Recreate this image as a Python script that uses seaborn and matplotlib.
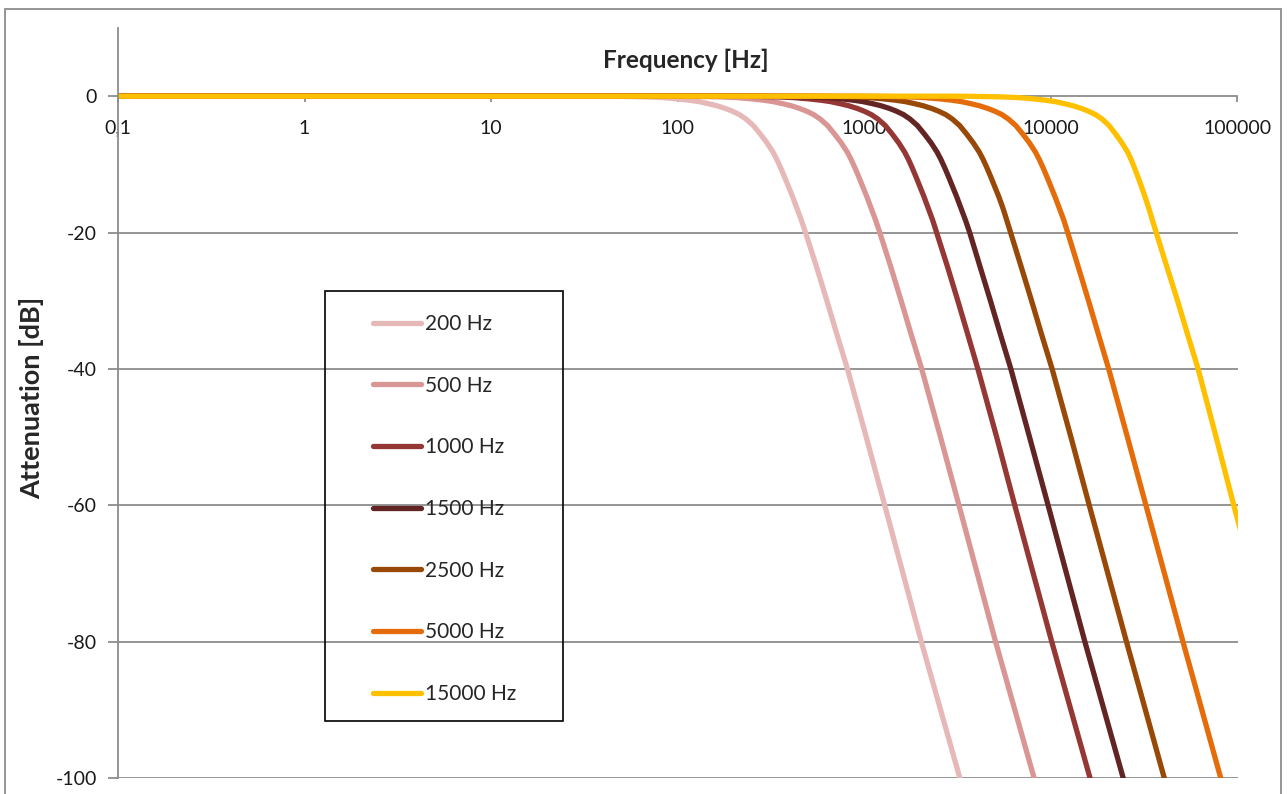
import pandas as pd
import matplotlib
matplotlib.use('Agg')
import matplotlib.pyplot as plt
from matplotlib.patches import Rectangle
from matplotlib.ticker import NullLocator
import seaborn as sns

attenuation_db = [0, 0, -0.05, -0.1, -0.2, -0.4, -0.6, -0.8, -1.1, -1.4, -1.8, -2.2, -2.7,
                  -3.35, -4.3, -5.5, -6.8, -8.2, -9.3, -10.5, -11.8, -13.1, -14.7, -16.5,
                  -18.2, -20, -25, -30, -35, -40, -50, -60, -80, -100, -110]

# frequency (Hz) where each curve reaches the level above
freq_200 = [0.1, 40, 54, 66, 82, 100, 116, 130, 146, 162, 180, 196, 214,
            232, 254, 276, 300, 324, 340, 356, 373, 390, 412, 436,
            460, 484, 554, 630, 714, 812, 1024, 1286, 2020, 3250, 4100]
freq_500 = [0.1, 100, 135, 165, 205, 250, 290, 325, 365, 405, 450, 490, 535,
            580, 635, 690, 750, 810, 850, 890, 933, 975, 1030, 1090,
            1150, 1210, 1385, 1575, 1785, 2030, 2560, 3215, 5050, 8125, 10250]
freq_1000 = [0.1, 200, 270, 332, 414, 506, 588, 660, 742, 824, 916, 998, 1090,
             1182, 1294, 1405, 1525, 1645, 1725, 1805, 1890, 1975, 2085, 2205,
             2325, 2440, 2790, 3170, 3590, 4060, 5120, 6400, 10100, 16200, 20500]
freq_1500 = [0.1, 300, 405, 500, 621, 758, 879, 985, 1106, 1227, 1364, 1485, 1621,
             1757, 1924, 2091, 2273, 2454, 2575, 2697, 2826, 2954, 3121, 3303,
             3485, 3670, 4170, 4740, 5370, 6100, 7680, 9660, 15200, 24400, 30800]
freq_2500 = [0.1, 500, 675, 840, 1045, 1275, 1480, 1660, 1860, 2065, 2295, 2500, 2730,
             2960, 3240, 3520, 3825, 4130, 4335, 4540, 4755, 4970, 5250, 5545,
             5800, 6080, 6925, 7875, 8925, 10150, 12800, 16050, 25400, 40500, 51200]
freq_5000 = [0.1, 1000, 1350, 1680, 2090, 2550, 2960, 3315, 3725, 4130, 4590, 5000, 5460,
             5915, 6480, 7040, 7650, 8260, 8670, 9080, 9510, 9945, 10500, 11120,
             11730, 12300, 14000, 15900, 18000, 20400, 25700, 32300, 51000, 81300, 102500]
freq_15000 = [0.1, 3240, 4370, 5350, 6640, 8100, 9400, 10530, 11830, 13120, 14580, 15880, 17330,
              18790, 20480, 22150, 23960, 25760, 26900, 28040, 29230, 30420, 31890, 33520,
              35000, 36660, 41800, 47720, 54090, 61510, 76800, 95500, 151000, 243000, 307000]

series_names = ['200 Hz', '500 Hz', '1000 Hz', '1500 Hz', '2500 Hz', '5000 Hz', '15000 Hz']
series_freqs = [freq_200, freq_500, freq_1000, freq_1500, freq_2500, freq_5000, freq_15000]
colors = ['#E6B9B8', '#D99694', '#953735', '#632523', '#984807', '#E46C0A', '#FFC000']

x_ticks = [0.1, 1, 10, 100, 1000, 10000, 100000]
x_labels = ['0,1', '1', '10', '100', '1000', '10000', '100000']
y_ticks = [0, -20, -40, -60, -80, -100]

frames = []
for name, fr in zip(series_names, series_freqs):
    frames.append(pd.DataFrame({'Frequency': fr, 'Attenuation': attenuation_db, 'Series': name}))
df = pd.concat(frames, ignore_index=True)

sns.set_style('white')
plt.rcParams['font.family'] = ['Lato', 'DejaVu Sans']
plt.rcParams['axes.unicode_minus'] = False

W, H = 1287, 794
fig = plt.figure(figsize=(W / 100, H / 100), dpi=100)
ax = fig.add_axes([118 / W, (H - 778) / H, 1119.5 / W, 750 / H])

sns.lineplot(data=df, x='Frequency', y='Attenuation', hue='Series',
             palette=dict(zip(series_names, colors)), hue_order=series_names,
             linewidth=3.8, sort=False, estimator=None, ax=ax)
for ln in ax.get_lines():
    ln.set_solid_joinstyle('round')

ax.set_xscale('log')
ax.set_xlim(0.1, 100000)
ax.set_ylim(-100, 10)
ax.xaxis.set_minor_locator(NullLocator())
ax.set_xticks(x_ticks)
ax.set_xticklabels(x_labels)
ax.set_yticks(y_ticks)
ax.set_yticklabels([str(v) for v in y_ticks])
ax.set_xlabel('')
ax.set_ylabel('')

grey = '#8C8C8C'
for v in y_ticks[1:]:
    ax.axhline(v, color=grey, lw=1.3, zorder=0)

for s in ['top', 'right']:
    ax.spines[s].set_visible(False)
ax.spines['bottom'].set_position(('data', 0))
ax.spines['bottom'].set_color(grey)
ax.spines['bottom'].set_linewidth(1.3)
ax.spines['bottom'].set_zorder(0)
ax.spines['left'].set_color(grey)
ax.spines['left'].set_linewidth(1.3)

ax.tick_params(axis='x', direction='out', length=4, width=1.3, color=grey,
               pad=13, labelsize=14, labelcolor='#1a1a1a', bottom=True)
ax.tick_params(axis='y', direction='out', length=7, width=1.3, color=grey,
               pad=8, labelsize=14, labelcolor='#1a1a1a', left=True)

# legend
handles, labels = ax.get_legend_handles_labels()
leg = ax.legend(handles, labels, loc='upper left',
                bbox_to_anchor=(373 / W, (H - 314) / H), bbox_transform=fig.transFigure,
                frameon=False, fontsize=15, labelspacing=2.0, handlelength=2.3,
                handletextpad=0.2, borderpad=0, borderaxespad=0)
for h in leg.get_lines():
    h.set_linewidth(3.8)
fig.patches.append(Rectangle((325 / W, (H - 721) / H), 238 / W, 430 / H,
                             transform=fig.transFigure, fill=False,
                             edgecolor='black', lw=1.2))

fig.text(686 / W, (H - 60) / H, 'Frequency [Hz]', ha='center', va='center',
         fontsize=17.5, fontweight='bold')
fig.text(32 / W, (H - 398) / H, 'Attenuation [dB]', ha='center', va='center',
         rotation=90, fontsize=19.5, fontweight='bold')

# outer chart border
fig.patches.append(Rectangle((5 / W, -0.05), 1276 / W, (H - 9) / H + 0.05,
                             transform=fig.transFigure, fill=False,
                             edgecolor='#8C8C8C', lw=1.3))

fig.savefig('out.png', dpi=100)
